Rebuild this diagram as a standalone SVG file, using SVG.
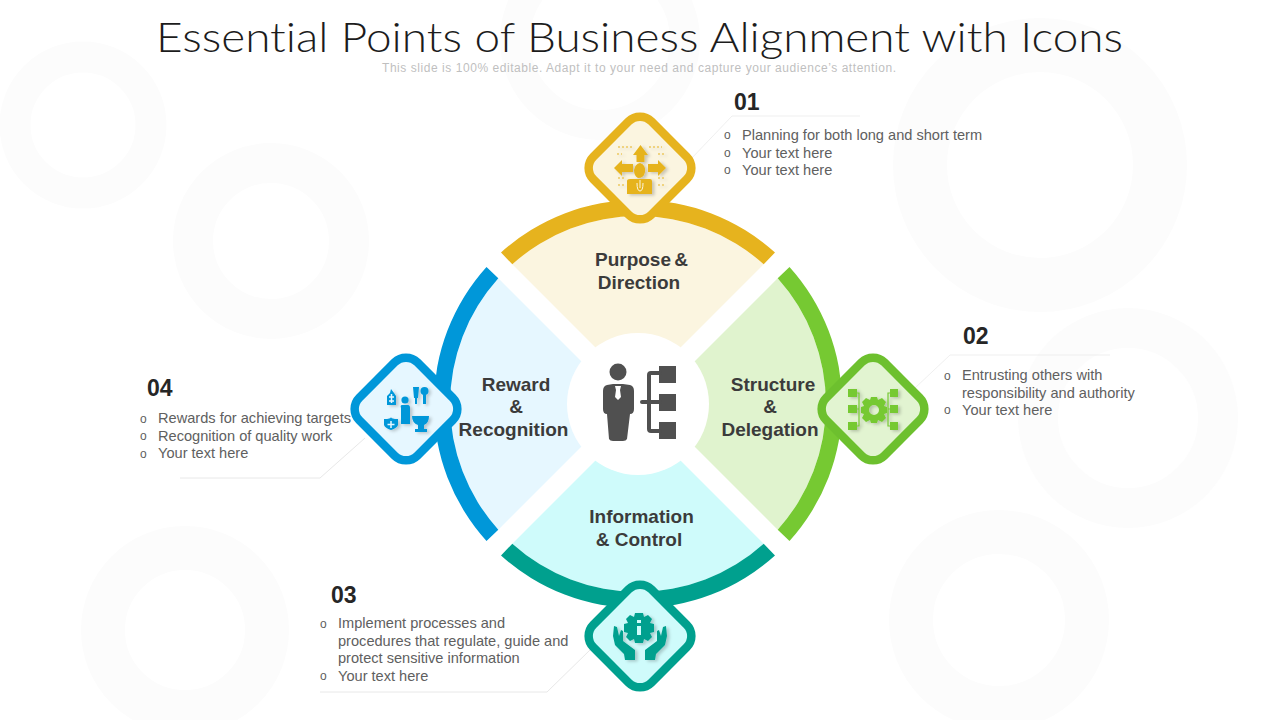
<svg xmlns="http://www.w3.org/2000/svg" width="1280" height="720" viewBox="0 0 1280 720">
<style>
.bg{fill:none;stroke:#FCFCFC}
.title{font-family:"Lato","Open Sans","Liberation Sans",sans-serif;font-weight:300;font-size:42px;fill:#1C1C1C;font-variant-ligatures:none}
.sub{font-family:"Liberation Sans",Arial,sans-serif;font-size:12px;fill:#BFBFBF}
.lab{font-family:"Liberation Sans",Arial,sans-serif;font-weight:700;font-size:19px;fill:#3B3B3B;text-anchor:middle}
.num{font-family:"Liberation Sans",Arial,sans-serif;font-weight:700;font-size:23px;fill:#262626}
.txt{font-family:"Liberation Sans",Arial,sans-serif;font-size:14.6px;fill:#606060}
.bul{font-family:"Liberation Sans",Arial,sans-serif;font-size:12px;fill:#606060}
.lead{fill:none;stroke:#E8E8E8;stroke-width:1}
.dia{stroke-width:8.500}
.ico{filter:url(#soft)}
</style>
<defs>
<filter id="soft" x="-20%" y="-20%" width="150%" height="150%"><feDropShadow dx="2.5" dy="1.5" stdDeviation="1.5" flood-color="#000000" flood-opacity="0.2"/></filter>
<path id="sec" d="M0,-14 L-125.700,-139.700 A188,188 0 0 1 125.700,-139.700 Z"/>
<path id="arc" d="M-137,-151.500 A204.500,204.500 0 0 1 137,-151.500 L125.700,-139.700 A188,188 0 0 0 -125.700,-139.700 Z"/>
<rect id="dm" x="-41" y="-41" width="82" height="82" rx="16" transform="rotate(45)"/>
</defs>
<rect width="1280" height="720" fill="#FFFFFF"/>
<g id="background">
<circle class="bg" cx="83" cy="125" r="68" stroke-width="31"/>
<circle class="bg" cx="271" cy="241" r="78" stroke-width="40"/>
<circle class="bg" cx="185" cy="630" r="82" stroke-width="44"/>
<circle class="bg" cx="600" cy="40" r="85" stroke-width="30"/>
<circle class="bg" cx="1040" cy="165" r="120" stroke-width="54"/>
<circle class="bg" cx="1128" cy="418" r="90" stroke-width="40"/>
<circle class="bg" cx="999" cy="620" r="88" stroke-width="44"/>
</g>
<text class="title" x="156" y="52" textLength="967" lengthAdjust="spacingAndGlyphs">Essential Points of Business Alignment with Icons</text>
<text class="sub" x="382" y="72" textLength="514">This slide is 100% editable. Adapt it to your need and capture your audience’s attention.</text>
<g id="connectors">
<path class="lead" stroke-opacity="0.7" d="M690,160 L732,116 H860"/>
<path class="lead" stroke-opacity="0.7" d="M915,388 L950,355 H1110"/>
<path class="lead" d="M590,650 L547,692 H320"/>
<path class="lead" d="M365,438 L320,478 H180"/>
</g>
<g id="wheel" transform="translate(638,404)">
<use href="#sec" fill="#FBF5E0"/>
<use href="#arc" fill="#E6B31E"/>
<use href="#sec" fill="#E0F3CE" transform="rotate(90)"/>
<use href="#arc" fill="#76C932" transform="rotate(90)"/>
<use href="#sec" fill="#CFFBFB" transform="rotate(180)"/>
<use href="#arc" fill="#00A08E" transform="rotate(180)"/>
<use href="#sec" fill="#E6F7FF" transform="rotate(270)"/>
<use href="#arc" fill="#0097D9" transform="rotate(270)"/>
<circle r="71" fill="#FFFFFF"/>
</g>
<g id="center-icon" fill="#505050">
<circle cx="618" cy="372" r="8.500"/>
<path d="M607,385 L613,384 H623 L630,385 Q634,386 634,391 L634,409 Q634,414 630,414 L627,439 Q626,441 623,441 H613 Q610,441 609,439 L607,414 Q603,414 603,409 L603,391 Q603,386 607,385Z"/>
<path d="M615,386 H621 L620,390 L621,397 L618,400 L615,397 L616,390Z" fill="#FFFFFF"/>
<rect x="659" y="366" width="17" height="17"/><rect x="659" y="394" width="17" height="17"/><rect x="659" y="422" width="17" height="17"/>
<path d="M660,373 H651 Q649,373 649,375 V429 Q649,431 651,431 H660 M642,402 H660" fill="none" stroke="#505050" stroke-width="4" stroke-linecap="round"/>
</g>
<g id="label-1"><text class="lab" x="641.500" y="266" word-spacing="-2">Purpose &amp;</text><text class="lab" x="639" y="289">Direction</text></g>
<g id="label-2"><text class="lab" x="773" y="391">Structure</text><text class="lab" x="770" y="413">&amp;</text><text class="lab" x="770" y="436">Delegation</text></g>
<g id="label-3"><text class="lab" x="641.500" y="523">Information</text><text class="lab" x="639" y="546">&amp; Control</text></g>
<g id="label-4"><text class="lab" x="516" y="391">Reward</text><text class="lab" x="516" y="413">&amp;</text><text class="lab" x="513.500" y="436">Recognition</text></g>

<g id="node-1">
<use href="#dm" transform="translate(640,168)" fill="#FBF5E0" stroke="#E6B31E" class="dia"/>
<g class="ico">
<g fill="#E6B31E">
<path d="M640.500,145 L648,155 H644.500 V162 H636.500 V155 H633Z"/>
<path d="M614,168 L622,160 V164 H633 V172 H622 V176Z"/>
<path d="M666,168 L658,160 V164 H648 V172 H658 V176Z"/>
<path d="M640,163 Q646,165 645,172 Q644,178 638,178 Q634,176 634,170 Q635,164 640,163Z"/>
<path d="M630,179 H650 Q652,179 652,181 V194 H627 V181 Q627,179 630,179Z"/>
</g>
<path d="M640,180 V188 M637,183 Q637,191 640,191 Q643,191 643,183" fill="none" stroke="#FBF5E0" stroke-width="1"/>
<path d="M618,147 H632 M649,147 H662 M617,154 H622 M658,154 H664 M618,178 H624 M658,178 H664 M618,185 H624 M658,185 H664" stroke="#E6B31E" stroke-width="1" stroke-dasharray="2 2" fill="none"/>
</g>
</g>
<g id="node-2">
<use href="#dm" transform="translate(873,409)" fill="#E2F4D1" stroke="#6DC02E" class="dia"/>
<g class="ico">
<g fill="#76C932">
<rect x="848" y="389" width="9" height="8"/><rect x="848" y="405" width="9" height="8"/><rect x="848" y="422" width="9" height="8"/>
<rect x="890" y="389" width="8" height="8"/><rect x="890" y="405" width="8" height="8"/><rect x="890" y="422" width="8" height="8"/>
<path fill-rule="evenodd" d="M871,397 H877 L878,400 L882,398 L886,402 L884,406 L887,407 V413 L884,414 L886,418 L882,422 L878,420 L877,423 H871 L870,420 L866,422 L862,418 L864,414 L861,413 V407 L864,406 L862,402 L866,398 L870,400Z M874,405 A5,5 0 1 0 874.010,415 A5,5 0 1 0 874,405Z"/>
</g>
<path d="M857,393 H859 V426 H857 M857,409 H859 M890,393 H888 V426 H890 M890,409 H888" fill="none" stroke="#76C932" stroke-width="1.200"/>
</g>
</g>
<g id="node-3">
<use href="#dm" transform="translate(640,636)" fill="#CFFBFB" stroke="#00A08E" class="dia"/>
<g class="ico">
<g fill="#00A08E">
<path d="M635,613 H643 L644,617 L648,615 L652,619 L650,623 L654,624 V632 L650,633 L652,637 L648,641 L644,639 L643,643 H635 L634,639 L630,641 L626,637 L628,633 L624,632 V624 L628,623 L626,619 L630,615 L634,617Z"/>
<path d="M614,626 L617,627 L619,636 L621,630 L623,631 L623,641 L635,650 L635,660 L625,660 L624,654 L615,645 L613,636Z"/>
<path d="M666,626 L663,627 L661,636 L659,630 L657,631 L657,641 L645,650 L645,660 L655,660 L656,654 L665,645 L667,636Z"/>
</g>
<path d="M639,620 V623 M639,626 V635" stroke="#CFFBFB" stroke-width="4" fill="none"/>
</g>
</g>
<g id="node-4">
<use href="#dm" transform="translate(406,409)" fill="#E6F7FF" stroke="#0097D9" class="dia"/>
<g class="ico">
<g fill="#0097D9">
<circle cx="405" cy="400" r="3.600"/><path d="M402,405 H408 Q410,405 410,408 V424 H401 V408 Q400,405 402,405Z"/>
<path d="M387,396 L390,393 L391,389 L394,393 L396,396 V405 H387Z"/>
<path d="M413,387 H419 L418,398 H417 V404 H415 V398 H414Z"/>
<circle cx="424.500" cy="391" r="4"/><rect x="423" y="393" width="3" height="11"/>
<path d="M384,419 Q391,419 391,417 Q391,419 398,419 V425 Q397,428 391,430 Q385,428 384,425Z"/>
<path d="M412,416 H429 Q429,423 424,425 V429 H427 V432 H415 V429 H418 V425 Q412,423 412,416Z"/>
</g>
<path d="M391.500,394 V403 M389,397 H394 M389,401 H394 M391,421 V428 M387.500,424.500 H394.500" stroke="#E6F7FF" stroke-width="1.500" fill="none"/>
</g>
</g>

<g id="text-1">
<text class="num" x="734" y="110">01</text>
<text class="bul" x="724" y="139">o</text><text class="txt" x="742" y="140">Planning for both long and short term</text>
<text class="bul" x="724" y="157">o</text><text class="txt" x="742" y="158">Your text here</text>
<text class="bul" x="724" y="174">o</text><text class="txt" x="742" y="175">Your text here</text>
</g>
<g id="text-2">
<text class="num" x="963" y="344">02</text>
<text class="bul" x="944" y="380">o</text><text class="txt" x="962" y="380">Entrusting others with</text>
<text class="txt" x="962" y="398">responsibility and authority</text>
<text class="bul" x="944" y="414">o</text><text class="txt" x="962" y="415">Your text here</text>
</g>
<g id="text-3">
<text class="num" x="331" y="603">03</text>
<text class="bul" x="320" y="628">o</text><text class="txt" x="338" y="628">Implement processes and</text>
<text class="txt" x="338" y="646">procedures that regulate, guide and</text>
<text class="txt" x="338" y="663">protect sensitive information</text>
<text class="bul" x="320" y="680">o</text><text class="txt" x="338" y="681">Your text here</text>
</g>
<g id="text-4">
<text class="num" x="147" y="396">04</text>
<text class="bul" x="140" y="423">o</text><text class="txt" x="158" y="423">Rewards for achieving targets</text>
<text class="bul" x="140" y="440">o</text><text class="txt" x="158" y="441">Recognition of quality work</text>
<text class="bul" x="140" y="458">o</text><text class="txt" x="158" y="458">Your text here</text>
</g>
</svg>
